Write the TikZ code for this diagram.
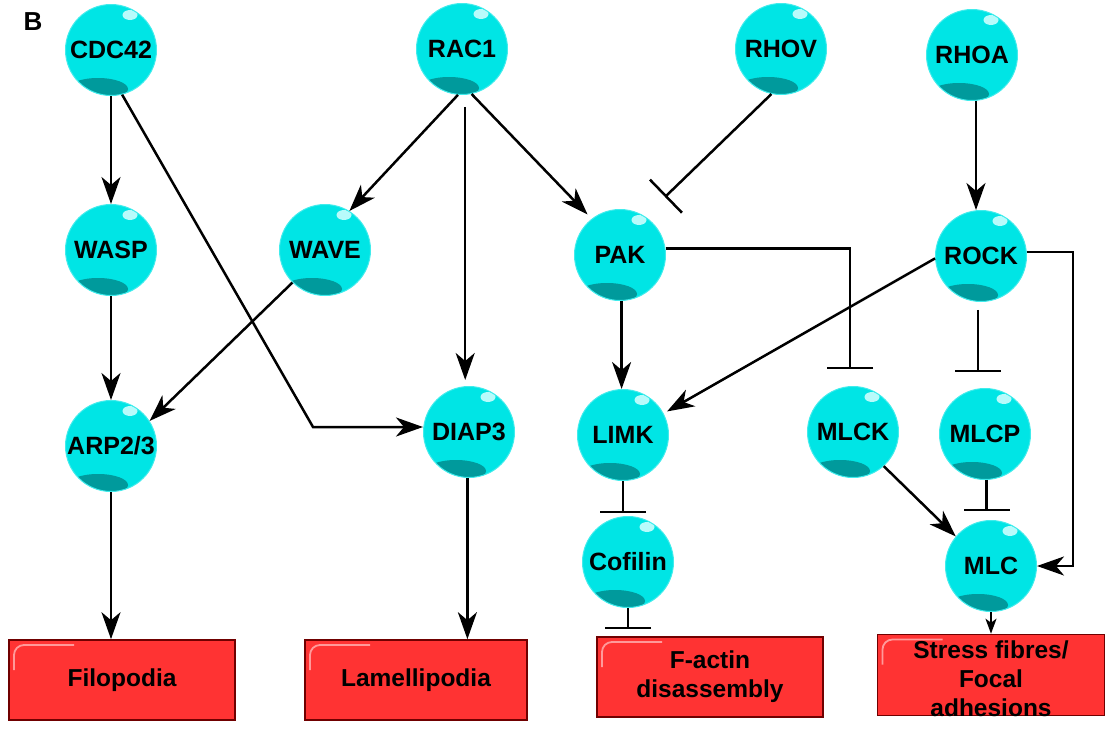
\documentclass[tikz,border=0pt]{standalone}
\usepackage{fontspec}
\setmainfont{Liberation Sans}
\usetikzlibrary{arrows.meta,calc}
\definecolor{cy}{HTML}{00E5E5}
\definecolor{cyedge}{HTML}{40ECEC}
\definecolor{cyshadow}{HTML}{009A9C}
\definecolor{cyhi}{HTML}{B8FBFB}
\definecolor{boxred}{HTML}{FF3333}
\definecolor{boxedge}{HTML}{700000}
\definecolor{boxhi}{HTML}{FF9A9A}
\begin{document}
\begin{tikzpicture}[x=1pt,y=-1pt,
  mol/.style={circle, minimum size=91pt, inner sep=0pt, fill=cy, draw=cyedge, line width=1pt,
    font=\fontsize{25}{29}\selectfont\bfseries,
    path picture={
      \coordinate (ppc) at (path picture bounding box.center);
      \fill[cyhi, rotate around={-28:($(ppc)+(19,-35)$)}] ($(ppc)+(19,-35)$) ellipse (7.5pt and 5pt);
      \fill[cyshadow, rotate around={-24:($(ppc)+(-13,39)$)}] ($(ppc)+(-13,39)$) ellipse (30pt and 11pt);
    }},
  outcome/.style={rectangle, fill=boxred, draw=boxedge, line width=1.6pt,
    minimum width=226pt, minimum height=80pt, inner sep=0pt, align=center,
    font=\fontsize{24.5}{29}\selectfont\bfseries,
    path picture={
      \coordinate (ppnw) at (path picture bounding box.north west);
      \draw[boxhi, line width=1.8pt, rounded corners=10pt] ($(ppnw)+(5,30)$) -- ($(ppnw)+(5,5)$) -- ($(ppnw)+(65,5)$);
    }},
  outtext/.style={align=center, font=\fontsize{24.5}{29}\selectfont\bfseries, inner sep=0pt},
  act/.style={draw, line width=2.5pt, -{Stealth[length=27pt, width=19pt, inset=8pt]}},
  actsmall/.style={draw, line width=2pt, -{Stealth[length=15pt, width=11pt, inset=4pt]}},
  inh/.style={draw, line width=2.5pt, -{Bar[width=46pt, line width=2.5pt]}},
  lbl/.style={font=\fontsize{26}{30}\selectfont\bfseries, inner sep=0pt}
]
\useasboundingbox (0,0) rectangle (1112,731);

% molecules
\node[mol] (cdc42) at (111,50) {CDC42};
\node[mol] (rac1) at (462,49) {RAC1};
\node[mol] (rhov) at (781,49) {RHOV};
\node[mol] (rhoa) at (972,55) {RHOA};
\node[mol] (wasp) at (111,250) {WASP};
\node[mol] (wave) at (325,250) {WAVE};
\node[mol] (pak) at (620,255) {PAK};
\node[mol] (rock) at (981,256) {ROCK};
\node[mol] (arp) at (111,446) {ARP2/3};
\node[mol] (diap3) at (469,432) {DIAP3};
\node[mol] (limk) at (623,435) {LIMK};
\node[mol] (mlck) at (853,432) {MLCK};
\node[mol] (mlcp) at (985,434) {MLCP};
\node[mol] (cofilin) at (628,562) {Cofilin};
\node[mol] (mlc) at (991,566) {MLC};

% outcomes
\node[outcome] (filo) at (122,680) {Filopodia};
\node[outcome, minimum width=222pt] (lamel) at (416,680) {Lamellipodia};
\node[outcome] (factin) at (710,677) {F-actin\\disassembly};
\node[outcome, minimum width=227pt, minimum height=81pt] (stress) at (991,675) {};
\node[outtext] (stresstext) at (991,679) {Stress fibres/\\Focal\\adhesions};

\node[lbl] (lblB) at (33,22) {B};

% helper coordinates
\coordinate (bend1) at (313,427);
\coordinate (pakbar) at (665,197);
\coordinate (mlckbar) at (850,369);

% connectors
\draw[act] (cdc42) -- (wasp);
\draw[act] (wasp) -- (arp);
\draw[act] (arp) -- (arp |- filo.north);
\draw[act] (cdc42.-76) -- (bend1) -- (bend1 -| diap3.west);
\draw[act] (wave.225) -- (arp.33);
\draw[act] (rac1.265) -- (wave.58);
\draw[act, shorten <=12pt, shorten >=6pt] (rac1.-86) -- (rac1.-86 |- diap3.north);
\draw[act, shorten >=6pt] (rac1.-78) -- (pak.128);
\draw[inh] (rhov.258) -- (pakbar);
\draw[act] (rhoa.-85) -- (rhoa.-85 |- rock.north);
\draw[act] (pak.-88) -- (pak.-88 |- limk.north);
\draw[inh] (pak.8) -| (mlckbar);
\draw[act, shorten >=4pt] (rock.183) -- (limk.28);
\draw[inh, shorten <=8pt, shorten >=16pt] (rock.-94) -- (rock.-94 |- mlcp.north);
\draw[act] (rock.5) -- ++(46,0) |- (mlc.east);
\draw[act] (mlck.-48) -- (mlc.140);
\draw[inh, shorten >=9pt] (mlcp.-88) -- (mlcp.-88 |- mlc.north);
\draw[inh, shorten >=3pt] (limk) -- (limk |- cofilin.north);
\draw[inh, shorten >=7pt] (cofilin) -- (cofilin |- factin.north);
\draw[act] (diap3.-92) -- (diap3.-92 |- lamel.north);
\draw[actsmall] (mlc) -- (mlc |- stress.north);
\end{tikzpicture}
\end{document}
